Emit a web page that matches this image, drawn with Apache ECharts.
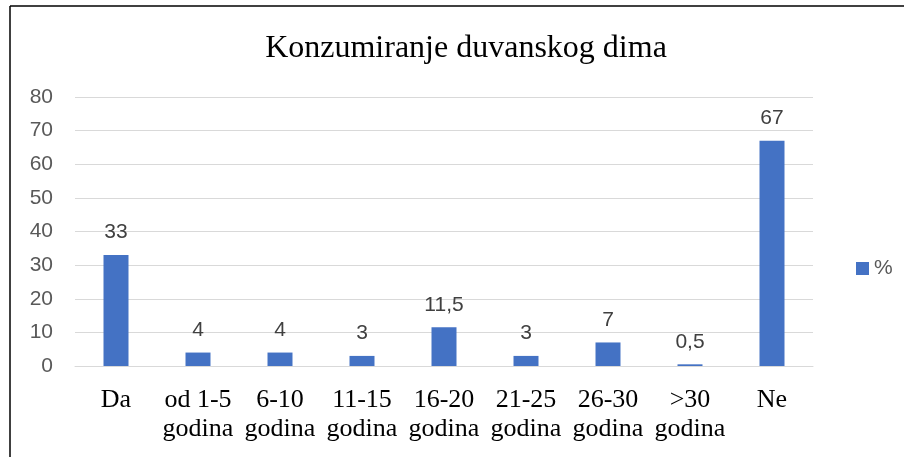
<!DOCTYPE html>
<html>
<head>
<meta charset="utf-8">
<script src="https://cdn.jsdelivr.net/npm/echarts@6/dist/echarts.min.js"></script>
<style>
  html, body { margin: 0; padding: 0; background: #fff; }
  #chart { width: 904px; height: 457px; }
</style>
</head>
<body>
<div id="chart"></div>
<script>
// Smoking exposure survey: share of respondents per answer group
const categories = ['Da', 'od 1-5\ngodina', '6-10\ngodina', '11-15\ngodina', '16-20\ngodina', '21-25\ngodina', '26-30\ngodina', '>30\ngodina', 'Ne'];
const values = [33, 4, 4, 3, 11.5, 3, 7, 0.5, 67];
const seriesName = '%';
const titleText = 'Konzumiranje duvanskog dima';

const chart = echarts.init(document.getElementById('chart'));
chart.setOption({
  animation: false,
  backgroundColor: '#fff',
  title: {
    text: titleText,
    left: 461,
    textAlign: 'center',
    top: 28,
    textStyle: { fontFamily: 'Liberation Serif', fontSize: 32, fontWeight: 'normal', color: '#000' }
  },
  legend: {
    data: [seriesName],
    orient: 'vertical',
    left: 851,
    top: 253,
    itemWidth: 13,
    itemHeight: 13,
    itemGap: 6,
    icon: 'rect',
    textStyle: { fontFamily: 'Liberation Sans', fontSize: 21, color: '#595959', padding: [0, 0, 0, 0] }
  },
  grid: { left: 75, right: 91, top: 97, bottom: 91 },
  xAxis: {
    type: 'category',
    data: categories,
    axisTick: { show: false },
    axisLine: { lineStyle: { color: '#d9d9d9', width: 1 } },
    axisLabel: {
      interval: 0,
      margin: 20,
      fontFamily: 'Liberation Serif',
      fontSize: 26,
      lineHeight: 29,
      color: '#000'
    }
  },
  yAxis: {
    type: 'value',
    min: 0,
    max: 80,
    interval: 10,
    axisLine: { show: false },
    axisTick: { show: false },
    splitLine: { lineStyle: { color: '#d9d9d9', width: 1 } },
    axisLabel: { fontFamily: 'Liberation Sans', fontSize: 21, color: '#595959', margin: 22 }
  },
  series: [{
    name: seriesName,
    type: 'bar',
    data: values,
    barWidth: 25,
    itemStyle: { color: '#4472c4' },
    label: {
      show: true,
      position: 'top',
      distance: 12,
      fontFamily: 'Liberation Sans',
      fontSize: 21,
      color: '#404040',
      formatter: p => String(p.value).replace('.', ',')
    }
  }],
  graphic: [
    { type: 'line', shape: { x1: 10, y1: 6, x2: 10, y2: 457 }, style: { stroke: '#000', lineWidth: 1.5 } },
    { type: 'line', shape: { x1: 10, y1: 6, x2: 904, y2: 6 }, style: { stroke: '#000', lineWidth: 1.5 } }
  ]
});
</script>
</body>
</html>
